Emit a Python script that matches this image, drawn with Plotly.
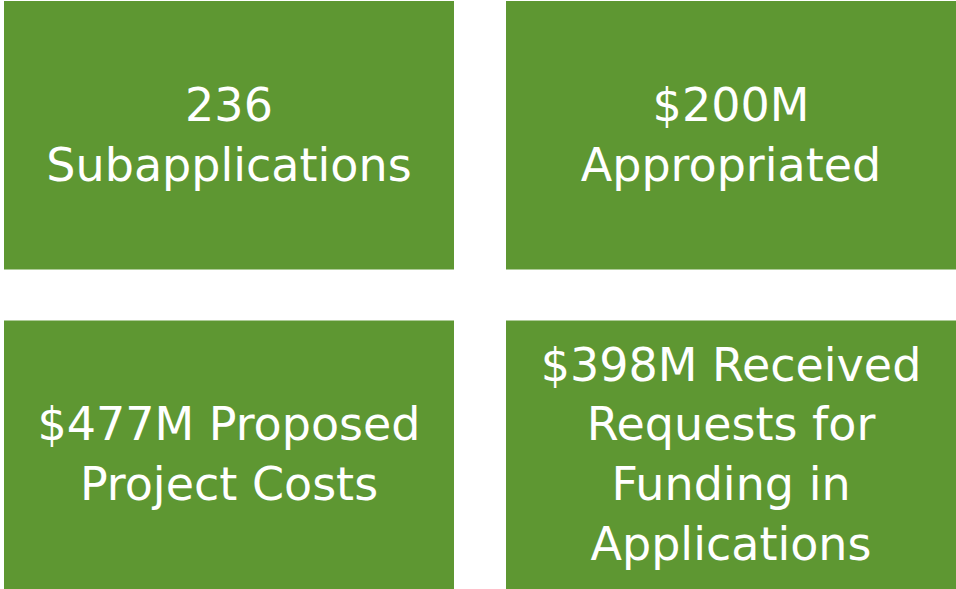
import plotly.graph_objects as go
from plotly.subplots import make_subplots

# Data
labels = [
    "236<br>Subapplications",
    "$200M<br>Appropriated",
    "$477M Proposed<br>Project Costs",
    "$398M Received<br>Requests for<br>Funding in<br>Applications",
]
rows = [1, 1, 2, 2]
cols = [1, 2, 1, 2]

GREEN = "#5E9732"
W, H = 956, 589
ml, mr, mt, mb = 4, 0, 1, 0

fig = make_subplots(rows=2, cols=2, horizontal_spacing=52 / (W - ml - mr),
                    vertical_spacing=51 / (H - mt - mb))

for lab, r, c in zip(labels, rows, cols):
    fig.add_trace(go.Scatter(x=[0.5], y=[0.5], mode="text", text=[lab],
                             textfont=dict(family="DejaVu Sans", size=46, color="white"),
                             textposition="middle center", hoverinfo="skip",
                             showlegend=False), row=r, col=c)

fig.update_xaxes(range=[0, 1], visible=False, fixedrange=True)
fig.update_yaxes(range=[0.015, 1.015], visible=False, fixedrange=True)

fig.update_layout(
    width=W, height=H,
    margin=dict(l=ml, r=mr, t=mt, b=mb),
    paper_bgcolor="white",
    plot_bgcolor=GREEN,
)

fig.write_html("out.html", config={"displayModeBar": False},
               post_script="document.body.style.margin='0';document.body.style.overflow='hidden';")
